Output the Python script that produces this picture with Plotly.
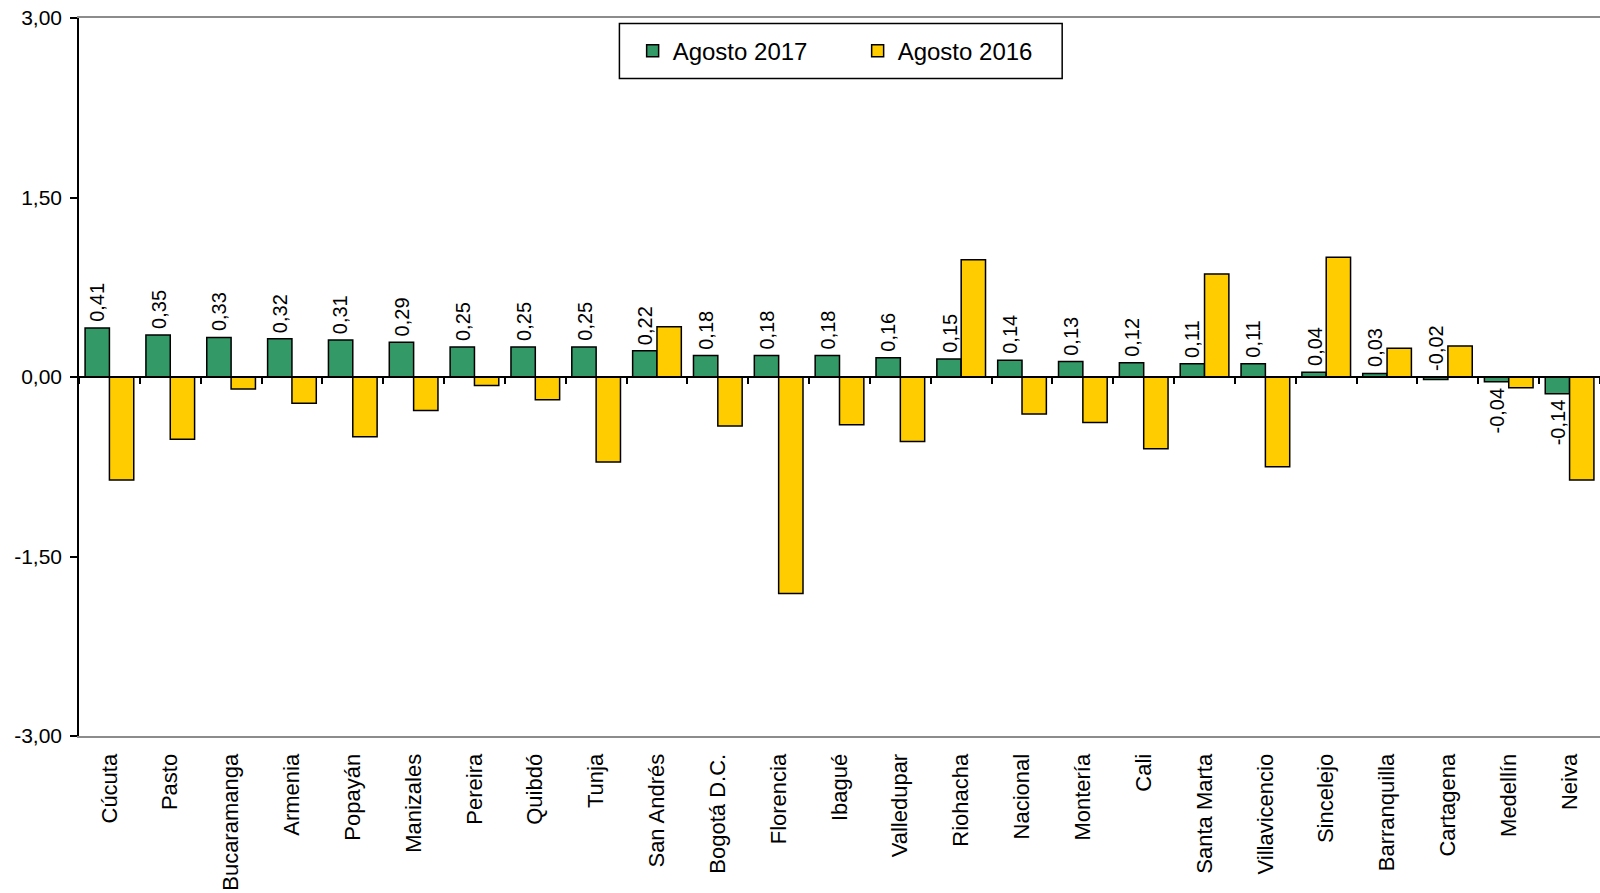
import plotly.graph_objects as go

categories = ["Cúcuta", "Pasto", "Bucaramanga", "Armenia", "Popayán", "Manizales", "Pereira",
              "Quibdó", "Tunja", "San Andrés", "Bogotá D.C.", "Florencia", "Ibagué", "Valledupar",
              "Riohacha", "Nacional", "Montería", "Cali", "Santa Marta", "Villavicencio",
              "Sincelejo", "Barranquilla", "Cartagena", "Medellín", "Neiva"]
agosto_2017 = [0.41, 0.35, 0.33, 0.32, 0.31, 0.29, 0.25, 0.25, 0.25, 0.22, 0.18, 0.18, 0.18, 0.16,
               0.15, 0.14, 0.13, 0.12, 0.11, 0.11, 0.04, 0.03, -0.02, -0.04, -0.14]
agosto_2016 = [-0.86, -0.52, -0.10, -0.22, -0.50, -0.28, -0.07, -0.19, -0.71, 0.42, -0.41, -1.81,
               -0.40, -0.54, 0.98, -0.31, -0.38, -0.60, 0.86, -0.75, 1.00, 0.24, 0.26, -0.09, -0.86]
label_above = [v > -0.03 for v in agosto_2017]
y_ticks = [-3.0, -1.5, 0.0, 1.5, 3.0]


def fmt(v):
    return f"{v:.2f}".replace(".", ",")


FONT = "Liberation Sans, Arial, sans-serif"
GREEN = "#339966"
YELLOW = "#FFCC00"

fig = go.Figure()
fig.add_trace(go.Bar(x=categories, y=agosto_2017, name="Agosto 2017",
                     marker=dict(color=GREEN, line=dict(color="black", width=1.5)),
                     hoverinfo="x+y"))
fig.add_trace(go.Bar(x=categories, y=agosto_2016, name="Agosto 2016",
                     marker=dict(color=YELLOW, line=dict(color="black", width=1.5)),
                     hoverinfo="x+y"))
# helper trace for the category axis drawn at zero
fig.add_trace(go.Scatter(x=categories, y=[None] * len(categories), xaxis="x2",
                         showlegend=False, hoverinfo="skip", mode="markers"))

for cat, v, above in zip(categories, agosto_2017, label_above):
    fig.add_annotation(x=cat, y=max(v, 0) if above else v, xref="x", yref="y",
                       text=fmt(v), showarrow=False,
                       textangle=-90, xshift=-12, yshift=4 if above else -4,
                       yanchor="bottom" if above else "top",
                       font=dict(family=FONT, size=20, color="black"))

# legend frame
fig.add_shape(type="rect", xref="paper", yref="paper", x0=0.3553, x1=0.6464,
              y0=0.9156, y1=0.9923, line=dict(color="black", width=1.5),
              fillcolor="white", layer="above")

n = len(categories)
fig.update_layout(
    width=1600, height=893,
    margin=dict(l=79, r=0, t=18, b=157),
    paper_bgcolor="white", plot_bgcolor="white",
    barmode="group", bargap=0.2, bargroupgap=0.0,
    separators=",.",
    font=dict(family=FONT, size=21, color="black"),
    xaxis=dict(type="category", categoryorder="array", categoryarray=categories,
               range=[-0.5, n - 0.5], showline=True, linecolor="#8c8c8c", linewidth=2,
               mirror=True, ticks="", tickangle=-90, ticklabelstandoff=7,
               tickfont=dict(family=FONT, size=22, color="black"), showgrid=False),
    xaxis2=dict(type="category", categoryorder="array", categoryarray=categories,
                range=[-0.5, n - 0.5], overlaying="x", anchor="free", position=0.5,
                showline=True, linecolor="black", linewidth=1.5, ticks="outside",
                tickson="boundaries", ticklen=6, tickwidth=1.5, tickcolor="black",
                showticklabels=False, showgrid=False),
    yaxis=dict(range=[-3, 3], tickvals=y_ticks, ticktext=[fmt(v) for v in y_ticks],
               showline=True, linecolor="black", linewidth=1.5, ticks="outside", ticklen=7,
               tickwidth=1.5, tickcolor="black", showgrid=False, zeroline=False,
               tickfont=dict(family=FONT, size=21, color="black"), ticklabelstandoff=4),
    legend=dict(orientation="h", x=0.364, y=0.954, xanchor="left", yanchor="middle",
                borderwidth=0, bgcolor="rgba(0,0,0,0)",
                font=dict(family=FONT, size=24, color="black"),
                entrywidth=180, entrywidthmode="pixels", traceorder="normal"),
    showlegend=True,
)

fig.write_html("out.html", config={"displayModeBar": False},
               post_script="document.body.style.margin='0px';document.body.style.overflow='hidden';")
